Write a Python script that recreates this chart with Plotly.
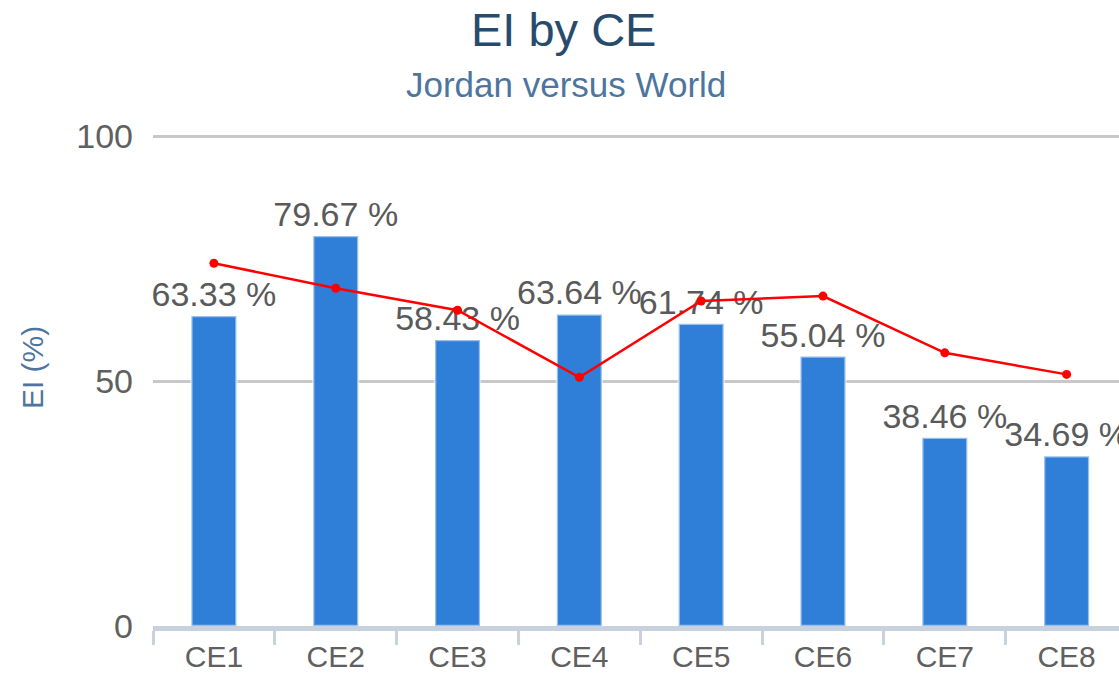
import plotly.graph_objects as go

categories = ["CE1", "CE2", "CE3", "CE4", "CE5", "CE6", "CE7", "CE8"]
jordan = [63.33, 79.67, 58.43, 63.64, 61.74, 55.04, 38.46, 34.69]
world = [74.1, 69.0, 64.5, 50.8, 66.4, 67.4, 55.8, 51.4]
y_ticks = [0, 50, 100]

FONT = "Liberation Sans"

fig = go.Figure()
fig.add_trace(go.Bar(
    x=categories, y=jordan, name="Jordan",
    width=0.37,
    marker=dict(color="#2f7ed8", line=dict(color="rgba(255,255,255,0.5)", width=2.5)),
    text=[f"{v:.2f} %" for v in jordan],
    textposition="outside",
    constraintext="none",
    cliponaxis=False,
    textfont=dict(family=FONT, size=34, color="#5a5a5a"),
))
fig.add_trace(go.Scatter(
    x=categories, y=world, name="World", mode="lines+markers",
    line=dict(color="#ff0000", width=2.5),
    marker=dict(color="#ff0000", size=9, symbol="circle"),
    cliponaxis=False,
))

fig.update_layout(
    width=1119, height=673,
    margin=dict(l=153, r=0, t=135, b=42),
    paper_bgcolor="white", plot_bgcolor="white",
    showlegend=False,
    font=dict(family=FONT),
    xaxis=dict(
        range=[-0.5, 7.43],
        showgrid=False,
        showline=True, linecolor="#c8d2de", linewidth=5,
        ticks="outside", tickson="boundaries", ticklen=14, tickwidth=3, tickcolor="#c8d2de",
        tickfont=dict(family=FONT, size=30, color="#606060"),
    ),
    yaxis=dict(
        range=[0, 100.3],
        tickvals=y_ticks,
        showgrid=True, gridcolor="#c8c8c8", gridwidth=3,
        zeroline=False, showline=False,
        ticks="", ticklabelstandoff=19,
        tickfont=dict(family=FONT, size=34, color="#606060"),
    ),
    annotations=[
        dict(text="EI by CE", xref="paper", yref="paper",
             x=(563 - 153) / 966, y=1 + (136 - 30) / 495,
             showarrow=False, xanchor="center", yanchor="middle",
             font=dict(family=FONT, size=47, color="#274b6d")),
        dict(text="Jordan versus World", xref="paper", yref="paper",
             x=(566 - 153) / 966, y=1 + (136 - 85) / 495,
             showarrow=False, xanchor="center", yanchor="middle",
             font=dict(family=FONT, size=35, color="#4d759e")),
        dict(text="EI (%)", xref="paper", yref="paper",
             x=(32 - 153) / 966, y=(631 - 371) / 495,
             showarrow=False, xanchor="center", yanchor="middle", textangle=-90,
             font=dict(family=FONT, size=30, color="#4d759e")),
    ],
)

fig.write_html(
    "out.html",
    config={"displayModeBar": False},
    post_script="document.body.style.margin='0';document.body.style.overflow='hidden';",
)
